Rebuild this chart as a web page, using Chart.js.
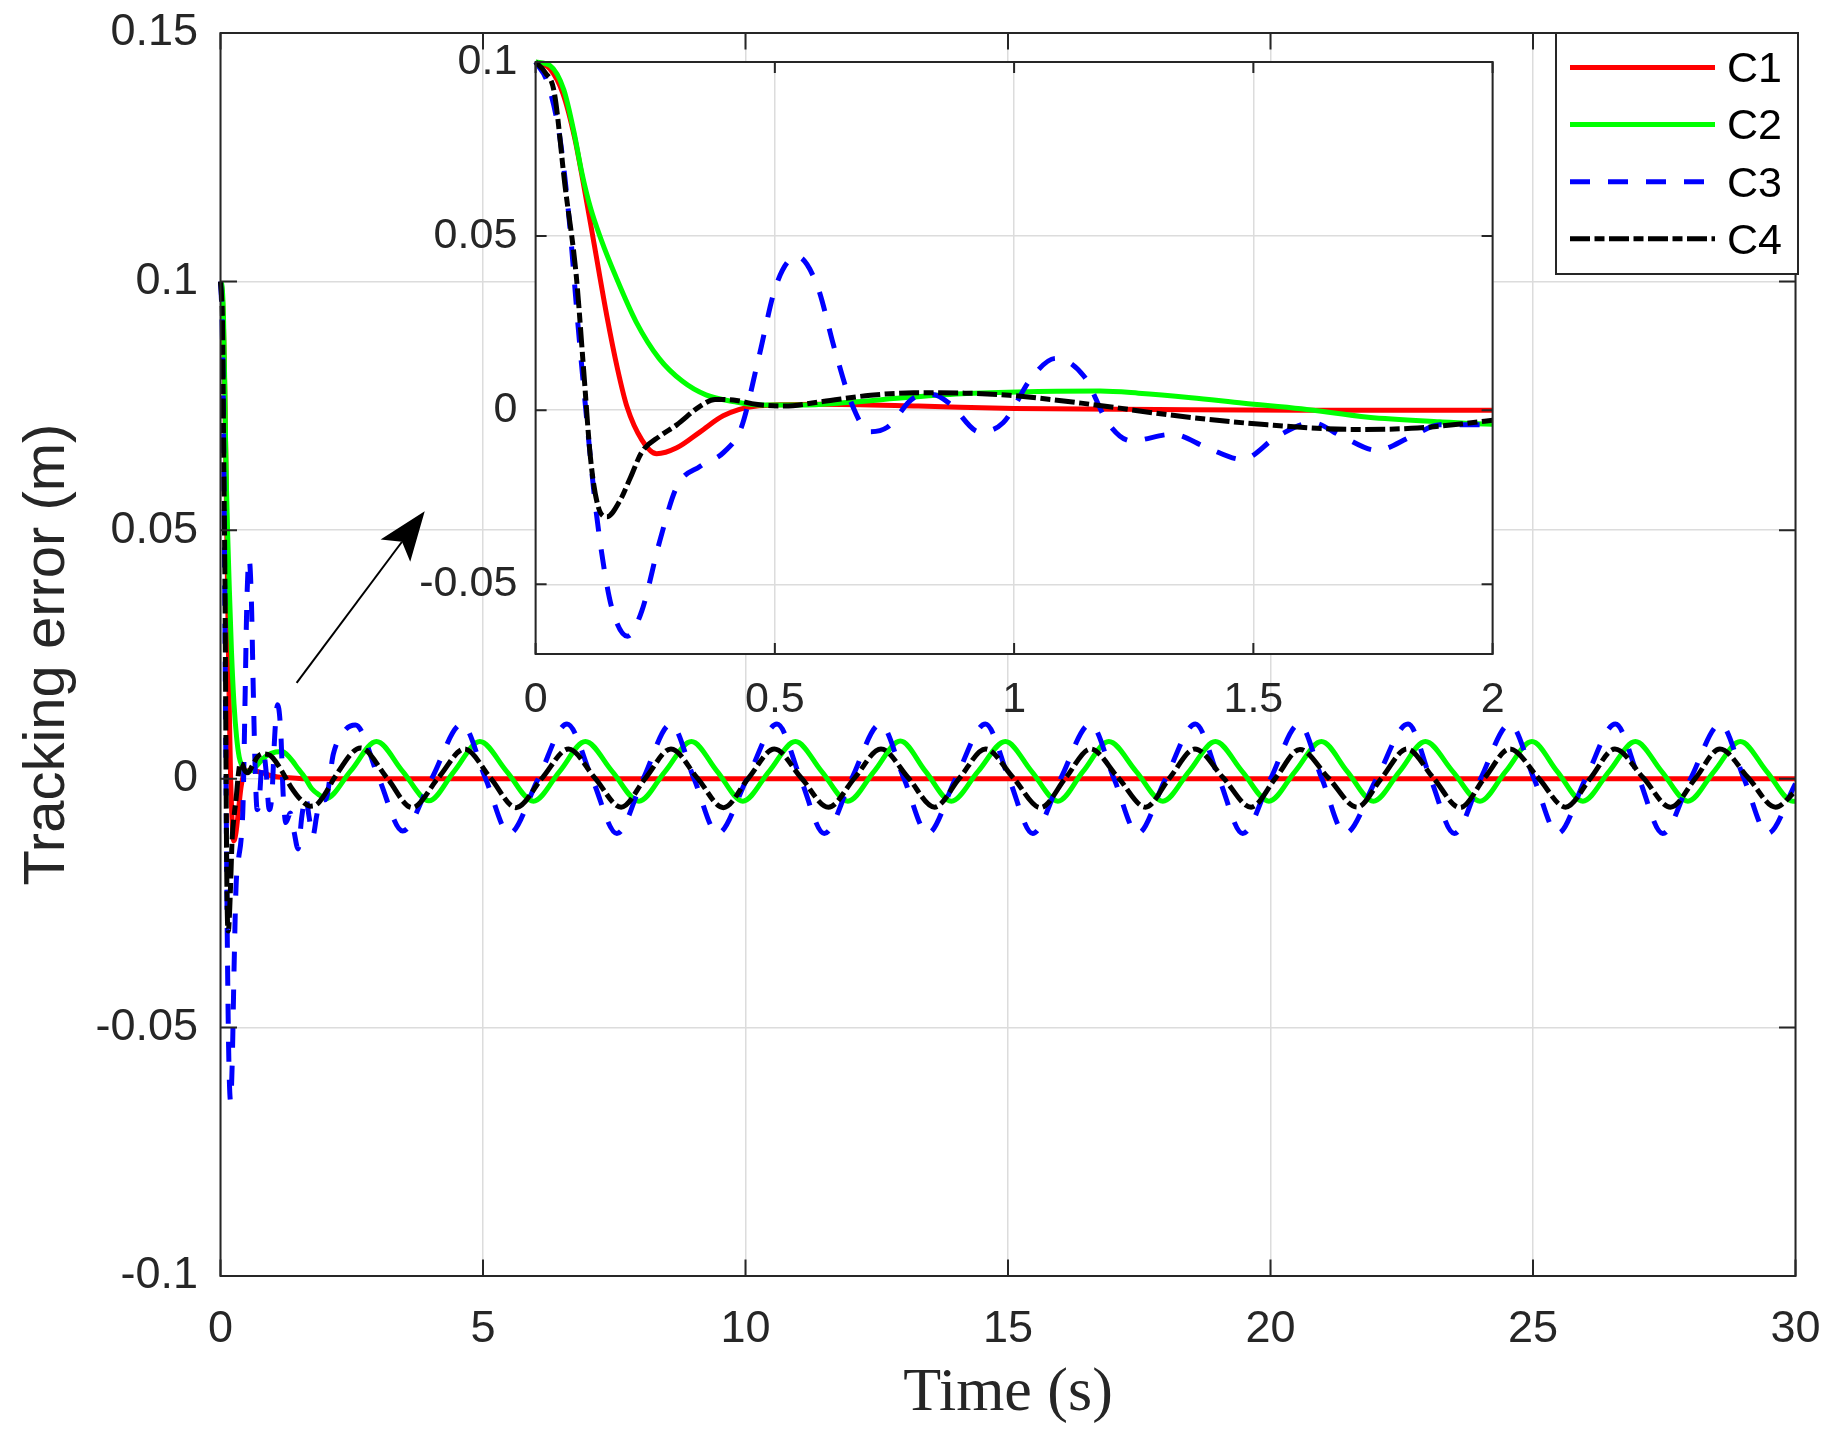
<!DOCTYPE html>
<html>
<head>
<meta charset="utf-8">
<script src="https://cdn.jsdelivr.net/npm/chart.js@4.4.1/dist/chart.umd.min.js"></script>
<style>
  body { margin: 0; background: #fff; }
  #wrap { position: relative; width: 1830px; height: 1437px; }
  canvas { position: absolute; left: 0; top: 0; }
</style>
</head>
<body>
<div id="wrap">
  <canvas id="mainChart" width="1830" height="1437"></canvas>
  <canvas id="zoomChart" width="1830" height="1437"></canvas>
</div>
<script>
// values (time in s, error in m)
const c1Time = [0, 0.03, 0.057, 0.082, 0.1, 0.122, 0.149, 0.171, 0.191, 0.222, 0.253, 0.295, 0.344, 0.392, 0.455,
  0.59, 0.8, 1.0, 1.3, 1.6, 2.0, 5, 10, 15, 20, 25, 30];
const c1Err = [0.1, 0.098, 0.091, 0.078, 0.065, 0.048, 0.027, 0.012, 0.001, -0.0085, -0.0125, -0.0108, -0.0062, -0.0016, 0.0011,
  0.0017, 0.0012, 0.0005, 0.0002, 0, 0, 0, 0, 0, 0, 0, 0];

const c2Time = [0, 0.03, 0.059, 0.08, 0.097, 0.115, 0.137, 0.167, 0.21, 0.258, 0.307, 0.356, 0.417, 0.467, 0.55, 0.65,
  0.78, 0.9, 1.05, 1.18, 1.26, 1.37, 1.48, 1.6, 1.74, 1.89, 2.0,
  2.48, 2.97, 3.47, 3.97, 4.45, 4.94, 5.45, 5.96, 6.46, 6.95, 7.46, 7.97, 8.47, 8.97, 9.46, 9.95,
  10.45, 10.95, 11.45, 11.95, 12.45, 12.95, 13.43, 13.92, 14.43, 14.95, 15.45, 15.95, 16.43, 16.92, 17.44, 17.95,
  18.45, 18.95, 19.46, 19.97, 20.47, 20.97, 21.46, 21.96, 22.46, 22.95, 23.47, 23.99, 24.48, 24.98, 25.46, 25.95,
  26.45, 26.95, 27.45, 27.95, 28.45, 28.95, 29.45, 29.95, 30];
const c2Err = [0.1, 0.099, 0.092, 0.08, 0.068, 0.058, 0.049, 0.0386, 0.0254, 0.0149, 0.0083, 0.0044, 0.0024, 0.0015, 0.0015, 0.0022,
  0.0037, 0.0048, 0.0054, 0.0055, 0.0049, 0.0036, 0.002, 0.0004, -0.002, -0.0033, -0.004,
  0.0016, 0.0075, 0.0015, -0.0044, 0.0015, 0.0075, 0.0015, -0.0045, 0.0015, 0.0075, 0.0015, -0.0045, 0.0015, 0.0075, 0.0015, -0.0045,
  0.0015, 0.0075, 0.0015, -0.0045, 0.0015, 0.0076, 0.0015, -0.0045, 0.0015, 0.0075, 0.0015, -0.0045, 0.0015, 0.0075, 0.0015, -0.0045,
  0.0015, 0.0075, 0.0015, -0.0045, 0.0015, 0.0075, 0.0015, -0.0045, 0.0015, 0.0075, 0.0015, -0.0045, 0.0015, 0.0075, 0.0015, -0.0045,
  0.0015, 0.0075, 0.0015, -0.0045, 0.0015, 0.0075, 0.0015, -0.0045, -0.0045];

const c3Time = [0, 0.025, 0.051, 0.07, 0.088, 0.105, 0.125, 0.145, 0.161, 0.192, 0.222, 0.259, 0.295, 0.344, 0.393,
  0.43, 0.466, 0.503, 0.546, 0.588, 0.625, 0.661, 0.698, 0.735, 0.79, 0.83, 0.867, 0.928, 0.977, 1.038,
  1.087, 1.147, 1.196, 1.245, 1.33, 1.404, 1.477, 1.55, 1.624, 1.685, 1.758, 1.831, 1.89, 2.0,
  2.15, 2.35, 2.57, 3.02, 3.47, 4.02, 4.6, 5.05, 5.5, 6.05, 6.6, 7.08, 7.55, 8.05, 8.58, 9.02, 9.47,
  10.03, 10.6, 11.05, 11.5, 12.02, 12.57, 13.02, 13.47, 14.0, 14.57, 15.02, 15.47, 16.0, 16.57, 17.02, 17.47,
  18.0, 18.57, 19.02, 19.47, 20.0, 20.55, 20.98, 21.42, 22.02, 22.62, 23.05, 23.5, 24.0, 24.56, 25.02, 25.47,
  26.0, 26.57, 27.02, 27.47, 28.0, 28.57, 29.02, 29.47, 30];
const c3Err = [0.1, 0.094, 0.078, 0.055, 0.0254, 0, -0.0273, -0.047, -0.0576, -0.0649, -0.0576, -0.0378, -0.022, -0.0161, -0.0121,
  -0.0049, 0.0149, 0.036, 0.0442, 0.036, 0.0175, 0.0017, -0.0062, -0.0049, 0.0035, 0.0045, 0.0017, -0.0062, -0.0036, 0.0096,
  0.0149, 0.0096, -0.0036, -0.0088, -0.0069, -0.0108, -0.0141, -0.0075, -0.0036, -0.0075, -0.0115, -0.0075, -0.0042, -0.0042,
  0.005, 0.0095, 0.0108, 0, -0.0105, 0, 0.011, 0, -0.011, 0, 0.011, 0, -0.011, 0, 0.011, 0, -0.011,
  0, 0.011, 0, -0.011, 0, 0.011, 0, -0.011, 0, 0.011, 0, -0.011, 0, 0.011, 0, -0.011,
  0, 0.011, 0, -0.011, 0, 0.011, 0, -0.011, 0, 0.011, 0, -0.011, 0, 0.011, 0, -0.011,
  0, 0.011, 0, -0.011, 0, 0.011, 0, -0.011, -0.001];

const c4Time = [0, 0.02, 0.039, 0.061, 0.085, 0.1, 0.115, 0.13, 0.149, 0.176, 0.198, 0.222, 0.259, 0.295, 0.344,
  0.375, 0.42, 0.46, 0.52, 0.6, 0.7, 0.79, 0.9, 0.99, 1.16, 1.34, 1.53, 1.71, 1.83, 2.0,
  2.17, 2.67, 3.17, 3.65, 4.15, 4.65, 5.14, 5.63, 6.13, 6.63, 7.13, 7.63, 8.1, 8.58, 9.08, 9.58,
  10.06, 10.55, 11.06, 11.58, 12.08, 12.58, 13.1, 13.6, 14.08, 14.57, 15.1, 15.62, 16.1, 16.57, 17.1, 17.62,
  18.08, 18.56, 19.1, 19.63, 20.1, 20.56, 21.1, 21.65, 22.12, 22.6, 23.1, 23.61, 24.08, 24.56, 25.1, 25.62,
  26.1, 26.56, 27.1, 27.62, 28.1, 28.56, 29.1, 29.62, 30];
const c4Err = [0.1, 0.097, 0.0913, 0.065, 0.0386, 0.0123, -0.0141, -0.0273, -0.0306, -0.026, -0.0194, -0.012, -0.0075, -0.0042, 0.0012,
  0.0031, 0.0028, 0.0017, 0.0012, 0.0025, 0.0043, 0.005, 0.0049, 0.0043, 0.0017, -0.0016, -0.0042, -0.0055, -0.0052, -0.0029,
  0.0002, 0.0062, 0.0002, -0.0058, 0.0002, 0.006, 0.0002, -0.0058, 0.0002, 0.006, 0.0002, -0.0057, 0.0002, 0.006, 0.0002, -0.0058,
  0.0002, 0.006, 0.0002, -0.0057, 0.0002, 0.006, 0.0002, -0.0057, 0.0002, 0.006, 0.0002, -0.0058, 0.0002, 0.006, 0.0002, -0.0057,
  0.0002, 0.006, 0.0002, -0.0057, 0.0002, 0.0059, 0.0002, -0.0057, 0.0002, 0.006, 0.0002, -0.0058, 0.0002, 0.006, 0.0002, -0.0057,
  0.0002, 0.006, 0.0002, -0.0057, 0.0002, 0.006, 0.0002, -0.0057, -0.0025];

const seriesNames = ["C1", "C2", "C3", "C4"];

const xTicks = [0, 5, 10, 15, 20, 25, 30];
const xTickLabels = ["0", "5", "10", "15", "20", "25", "30"];
const yTicks = [-0.1, -0.05, 0, 0.05, 0.1, 0.15];
const yTickLabels = ["-0.1", "-0.05", "0", "0.05", "0.1", "0.15"];

const zoomXTicks = [0, 0.5, 1, 1.5, 2];
const zoomXTickLabels = ["0", "0.5", "1", "1.5", "2"];
const zoomYTicks = [-0.05, 0, 0.05, 0.1];
const zoomYTickLabels = ["-0.05", "0", "0.05", "0.1"];

// arrow from the transient to the zoomed view, in data units
const arrowTail = [1.45, 0.0193];
const arrowTip = [3.89, 0.0538];

const AXIS = "#262626";
const GRID = "#dcdcdc";
const SANS = "'Liberation Sans', Arial, sans-serif";

const lineStyles = [
  { color: "#ff0000", dash: [] },
  { color: "#00ff00", dash: [] },
  { color: "#0000ff", dash: [20, 18] },
  { color: "#000000", dash: [20, 4.5, 10, 4.5] },
];

function toPoints(ts, vs) {
  return ts.map((t, i) => ({ x: t, y: vs[i] }));
}

function makeDatasets() {
  const all = [
    toPoints(c1Time, c1Err),
    toPoints(c2Time, c2Err),
    toPoints(c3Time, c3Err),
    toPoints(c4Time, c4Err),
  ];
  return all.map((pts, i) => ({
    label: seriesNames[i],
    data: pts,
    borderColor: lineStyles[i].color,
    borderDash: lineStyles[i].dash,
    borderWidth: 5,
    borderCapStyle: "butt",
    pointRadius: 0,
    fill: false,
    cubicInterpolationMode: "monotone",
    order: 4 - i,
    clip: { left: 4, top: 4, right: 0, bottom: 4 },
  }));
}

// box round the plot with inward ticks on all four sides
const frameTicks = {
  id: "frameTicks",
  afterDatasetsDraw(chart, args, opts) {
    const { ctx, chartArea: a } = chart;
    const xs = chart.scales.x, ys = chart.scales.y;
    ctx.save();
    ctx.strokeStyle = AXIS;
    ctx.lineWidth = 2;
    ctx.beginPath();
    xs.ticks.forEach((t) => {
      const px = xs.getPixelForValue(t.value);
      ctx.moveTo(px, a.bottom);
      ctx.lineTo(px, a.bottom - opts.len);
      ctx.moveTo(px, a.top);
      ctx.lineTo(px, a.top + opts.len);
    });
    ys.ticks.forEach((t) => {
      const py = ys.getPixelForValue(t.value);
      ctx.moveTo(a.left, py);
      ctx.lineTo(a.left + opts.len, py);
      ctx.moveTo(a.right, py);
      ctx.lineTo(a.right - opts.len, py);
    });
    ctx.stroke();
    ctx.strokeRect(a.left, a.top, a.right - a.left, a.bottom - a.top);
    ctx.restore();
  },
};

const whiteBack = {
  id: "whiteBack",
  beforeDraw(chart, args, opts) {
    const { ctx, chartArea: a } = chart;
    ctx.save();
    ctx.fillStyle = "#fff";
    if (opts.whole) ctx.fillRect(0, 0, chart.width, chart.height);
    else ctx.fillRect(a.left, a.top, a.right - a.left, a.bottom - a.top);
    ctx.restore();
  },
};

const arrowNote = {
  id: "arrowNote",
  afterDatasetsDraw(chart) {
    const { ctx } = chart;
    const xs = chart.scales.x, ys = chart.scales.y;
    const x0 = xs.getPixelForValue(arrowTail[0]), y0 = ys.getPixelForValue(arrowTail[1]);
    const x1 = xs.getPixelForValue(arrowTip[0]), y1 = ys.getPixelForValue(arrowTip[1]);
    const len = Math.hypot(x1 - x0, y1 - y0);
    const ux = (x1 - x0) / len, uy = (y1 - y0) / len;
    const nx = -uy, ny = ux;
    const headLen = 49, half = 18.5, notch = 38;
    ctx.save();
    ctx.strokeStyle = "#000";
    ctx.lineWidth = 2;
    ctx.beginPath();
    ctx.moveTo(x0, y0);
    ctx.lineTo(x1 - ux * notch, y1 - uy * notch);
    ctx.stroke();
    ctx.fillStyle = "#000";
    ctx.beginPath();
    ctx.moveTo(x1, y1);
    ctx.lineTo(x1 - ux * headLen + nx * half, y1 - uy * headLen + ny * half);
    ctx.lineTo(x1 - ux * notch, y1 - uy * notch);
    ctx.lineTo(x1 - ux * headLen - nx * half, y1 - uy * headLen - ny * half);
    ctx.closePath();
    ctx.fill();
    ctx.restore();
  },
};

const boxLegend = {
  id: "boxLegend",
  afterDraw(chart) {
    const { ctx, chartArea: a } = chart;
    const left = a.right - 239.5, top = a.top, w = 242, h = 241;
    ctx.save();
    ctx.fillStyle = "#fff";
    ctx.fillRect(left, top, w, h);
    ctx.strokeStyle = AXIS;
    ctx.lineWidth = 2;
    ctx.strokeRect(left, top, w, h);
    chart.data.datasets.forEach((ds, i) => {
      const y = top + 34.5 + i * 57.1;
      ctx.strokeStyle = ds.borderColor;
      ctx.lineWidth = ds.borderWidth;
      ctx.setLineDash(ds.borderDash);
      ctx.lineCap = "butt";
      ctx.beginPath();
      ctx.moveTo(left + 14, y);
      ctx.lineTo(left + 159, y);
      ctx.stroke();
      ctx.setLineDash([]);
      ctx.fillStyle = "#000";
      ctx.font = "43px " + SANS;
      ctx.textBaseline = "middle";
      ctx.textAlign = "left";
      ctx.fillText(ds.label, left + 171, y + 3);
    });
    ctx.restore();
  },
};

function tickSetter(values) {
  return (scale) => {
    scale.ticks = values.map((v) => ({ value: v }));
  };
}

// fixed axis sizes; drop the label overflow padding so the plot box stays put
function fixWidth(w) {
  return (s) => { s.width = w; s.paddingTop = 0; s.paddingBottom = 0; };
}
function fixHeight(h) {
  return (s) => { s.height = h; s.paddingLeft = 0; s.paddingRight = 0; };
}

new Chart(document.getElementById("mainChart"), {
  type: "line",
  data: { datasets: makeDatasets() },
  plugins: [whiteBack, frameTicks, arrowNote, boxLegend],
  options: {
    responsive: false,
    animation: false,
    layout: { padding: { top: 33, right: 34.5, left: 0, bottom: 0 } },
    plugins: {
      legend: { display: false },
      tooltip: { enabled: false },
      whiteBack: { whole: true },
      frameTicks: { len: 16.5 },
    },
    scales: {
      x: {
        type: "linear",
        min: 0,
        max: 30,
        afterBuildTicks: tickSetter(xTicks),
        afterFit: fixHeight(161),
        ticks: {
          callback: (v, i) => xTickLabels[i],
          font: { family: SANS, size: 45 },
          color: AXIS,
          padding: 26.5,
          maxRotation: 0,
          autoSkip: false,
        },
        grid: { color: GRID, lineWidth: 1.5, drawTicks: false },
        border: { display: false },
        title: {
          display: true,
          text: "Time (s)",
          font: { family: "'Liberation Serif', 'Times New Roman', serif", size: 62 },
          color: AXIS,
          padding: { top: 0, bottom: 6 },
        },
      },
      y: {
        type: "linear",
        min: -0.1,
        max: 0.15,
        afterBuildTicks: tickSetter(yTicks),
        afterFit: fixWidth(220.5),
        ticks: {
          callback: (v, i) => yTickLabels[i],
          font: { family: SANS, size: 45 },
          color: AXIS,
          padding: 22.5,
          autoSkip: false,
        },
        grid: { color: GRID, lineWidth: 1.5, drawTicks: false },
        border: { display: false },
        title: {
          display: true,
          text: "Tracking error (m)",
          font: { family: SANS, size: 58 },
          color: AXIS,
          padding: { top: 13, bottom: 0 },
        },
      },
    },
  },
});

new Chart(document.getElementById("zoomChart"), {
  type: "line",
  data: { datasets: makeDatasets() },
  plugins: [whiteBack, frameTicks],
  options: {
    responsive: false,
    animation: false,
    layout: { padding: { top: 62, right: 337.4, left: 415.6, bottom: 703 } },
    plugins: {
      legend: { display: false },
      tooltip: { enabled: false },
      whiteBack: { whole: false },
      frameTicks: { len: 11 },
    },
    scales: {
      x: {
        type: "linear",
        min: 0,
        max: 2,
        afterBuildTicks: tickSetter(zoomXTicks),
        afterFit: fixHeight(80),
        ticks: {
          callback: (v, i) => zoomXTickLabels[i],
          font: { family: SANS, size: 43 },
          color: AXIS,
          padding: 20,
          maxRotation: 0,
          autoSkip: false,
        },
        grid: { color: GRID, lineWidth: 1.5, drawTicks: false },
        border: { display: false },
      },
      y: {
        type: "linear",
        min: -0.07,
        max: 0.1,
        afterBuildTicks: tickSetter(zoomYTicks),
        afterFit: fixWidth(120),
        ticks: {
          callback: (v, i) => zoomYTickLabels[i],
          font: { family: SANS, size: 43 },
          color: AXIS,
          padding: 18.3,
          autoSkip: false,
        },
        grid: { color: GRID, lineWidth: 1.5, drawTicks: false },
        border: { display: false },
      },
    },
  },
});
</script>
</body>
</html>
